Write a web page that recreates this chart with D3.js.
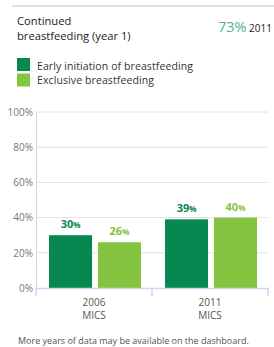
<!DOCTYPE html>
<html>
<head>
<meta charset="utf-8">
<script src="https://cdn.jsdelivr.net/npm/d3@7"></script>
<style>
  body { margin: 0; background: #fff; }
  text { font-family: "Open Sans", sans-serif; }
</style>
</head>
<body>
<div id="chart"></div>
<script>
// data
const surveys = ["2006 MICS", "2011 MICS"];
const seriesNames = ["Early initiation of breastfeeding", "Exclusive breastfeeding"];
const earlyInit = [30, 39];
const exclusive = [26, 40];
const yTicks = [0, 20, 40, 60, 80, 100];
const headline = { label: ["Continued", "breastfeeding (year 1)"], value: "73%", year: "2011" };
const footnote = "More years of data may be available on the dashboard.";

const W = 274, H = 347;
const colors = ["#078850", "#84c441"];

const svg = d3.select("#chart").append("svg")
  .attr("width", W)
  .attr("height", H);

// top rule
svg.append("rect")
  .attr("x", 12).attr("y", 5)
  .attr("width", W - 12).attr("height", 2)
  .attr("fill", "#e1e1e1");

// title block
svg.selectAll(".title")
  .data(headline.label)
  .join("text")
  .attr("x", 17)
  .attr("y", (d, i) => 24.5 + i * 15.5)
  .attr("font-size", "11.2px")
  .attr("fill", "#222")
  .text(d => d);

svg.append("text")
  .attr("x", 218).attr("y", 32)
  .attr("font-size", "14.5px")
  .attr("fill", "#4db585")
  .text(headline.value);

svg.append("text")
  .attr("x", 249).attr("y", 32)
  .attr("font-size", "10px")
  .attr("fill", "#222")
  .text(headline.year);

// legend
seriesNames.forEach((name, i) => {
  svg.append("rect")
    .attr("x", 17).attr("y", 58 + i * 15.5)
    .attr("width", 13).attr("height", 13)
    .attr("fill", colors[i]);
  svg.append("text")
    .attr("x", 37).attr("y", 69.5 + i * 14.5)
    .attr("font-size", "10.5px")
    .attr("letter-spacing", "0.1px")
    .attr("fill", "#333")
    .text(name);
});

// chart area
const margin = { left: 36, right: 6, top: 112, bottom: 59 };
const x0 = d3.scaleBand()
  .domain(surveys)
  .range([margin.left, W - margin.right]);
const x1 = d3.scaleBand()
  .domain([0, 1])
  .range([13, x0.bandwidth() - 11])
  .paddingInner(0.12);
const y = d3.scaleLinear()
  .domain([0, 100])
  .range([H - margin.bottom, margin.top]);

// gridlines
svg.append("g")
  .selectAll("line")
  .data(yTicks.slice(1))
  .join("line")
  .attr("x1", margin.left).attr("x2", W - margin.right)
  .attr("y1", d => y(d)).attr("y2", d => y(d))
  .attr("stroke", "#e2e2e2");

// y axis
const yAxis = svg.append("g")
  .attr("transform", `translate(${margin.left},0)`)
  .call(d3.axisLeft(y).tickValues(yTicks).tickSize(0).tickPadding(3).tickFormat(d => d + "%"));
yAxis.select(".domain").attr("stroke", "#cbd7ea");
yAxis.selectAll("text")
  .attr("font-size", "10px")
  .attr("font-family", "Open Sans, sans-serif")
  .attr("fill", "#777");

// bars
const rows = surveys.map((s, i) => ({ survey: s, vals: [earlyInit[i], exclusive[i]] }));
const groups = svg.selectAll(".grp")
  .data(rows)
  .join("g")
  .attr("transform", d => `translate(${x0(d.survey)},0)`);

groups.selectAll("rect")
  .data(d => d.vals.map((v, k) => ({ v, k })))
  .join("rect")
  .attr("x", d => x1(d.k))
  .attr("width", x1.bandwidth())
  .attr("y", d => y(d.v))
  .attr("height", d => y(0) - y(d.v))
  .attr("fill", d => colors[d.k]);

// value labels
const lbl = groups.selectAll(".val")
  .data(d => d.vals.map((v, k) => ({ v, k })))
  .join("text")
  .attr("x", d => x1(d.k) + x1.bandwidth() / 2)
  .attr("y", d => y(d.v) - 7)
  .attr("text-anchor", "middle")
  .attr("font-size", "11px")
  .attr("font-weight", "bold")
  .attr("fill", d => colors[d.k]);
lbl.append("tspan").text(d => d.v);
lbl.append("tspan").attr("font-size", "8px").text("%");

// x axis
const xAxis = svg.append("g")
  .attr("transform", `translate(0,${y(0)})`)
  .call(d3.axisBottom(x0).tickSize(0).tickFormat(""));
xAxis.select(".domain").attr("stroke", "#cbd7ea").attr("stroke-width", 1.5);

svg.append("g")
  .selectAll("line")
  .data([margin.left, x0(surveys[1]), W - margin.right])
  .join("line")
  .attr("x1", d => d).attr("x2", d => d)
  .attr("y1", y(0)).attr("y2", y(0) + 8)
  .attr("stroke", "#cbd7ea")
  .attr("stroke-width", 1.5);

svg.append("g")
  .selectAll("text")
  .data(surveys)
  .join("text")
  .attr("x", d => x0(d) + x0.bandwidth() / 2)
  .attr("text-anchor", "middle")
  .attr("font-size", "10px")
  .attr("fill", "#555")
  .each(function (d) {
    d.split(" ").forEach((part, i) => {
      d3.select(this).append("tspan")
        .attr("x", x0(d) + x0.bandwidth() / 2)
        .attr("y", 306 + i * 13)
        .text(part);
    });
  });

// footnote
svg.append("text")
  .attr("x", 18).attr("y", 344)
  .attr("font-size", "9px")
  .attr("fill", "#555")
  .text(footnote);
</script>
</body>
</html>
